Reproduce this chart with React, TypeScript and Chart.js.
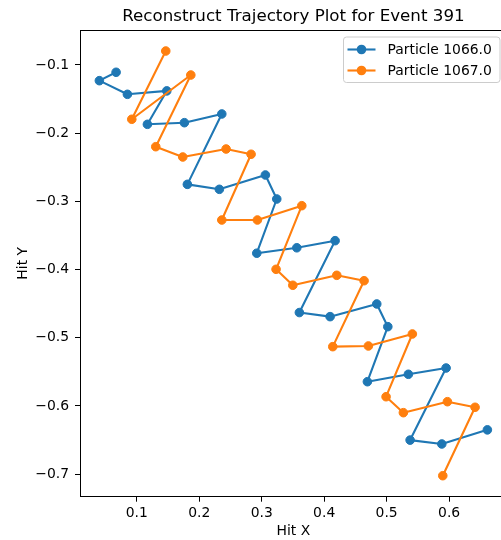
import React, { useEffect, useRef } from "react";
import { Chart, registerables } from "chart.js";

Chart.register(...registerables);

const titleText = "Reconstruct Trajectory Plot for Event 391";
const xLabel = "Hit X";
const yLabel = "Hit Y";
const seriesNames = ["Particle 1066.0", "Particle 1067.0"];
const seriesColors = ["#1f77b4", "#ff7f0e"];

const blueX = [0.0669, 0.0401, 0.085, 0.148, 0.117, 0.1762, 0.2361, 0.181, 0.2322, 0.3059, 0.3241, 0.2921, 0.3562, 0.4175, 0.3603, 0.4095, 0.4842, 0.5019, 0.4692, 0.5348, 0.5952, 0.5376, 0.5883, 0.6613];
const blueY = [-0.1107, -0.123, -0.143, -0.138, -0.187, -0.1846, -0.1718, -0.275, -0.2823, -0.2613, -0.2965, -0.376, -0.368, -0.3576, -0.463, -0.469, -0.4504, -0.4837, -0.5644, -0.5535, -0.5443, -0.65, -0.6557, -0.635];

const orangeX = [0.1464, 0.092, 0.1865, 0.1304, 0.1736, 0.243, 0.283, 0.2361, 0.2931, 0.3642, 0.323, 0.3498, 0.4202, 0.4639, 0.4138, 0.4708, 0.5412, 0.4991, 0.5268, 0.5973, 0.6416, 0.5899];
const orangeY = [-0.0795, -0.1796, -0.1147, -0.2198, -0.2349, -0.2232, -0.2309, -0.3273, -0.3273, -0.3063, -0.3996, -0.423, -0.4084, -0.4163, -0.513, -0.512, -0.4944, -0.5864, -0.6098, -0.5937, -0.6019, -0.7022];

const xTicks = [0.1, 0.2, 0.3, 0.4, 0.5, 0.6];
const yTicks = [-0.1, -0.2, -0.3, -0.4, -0.5, -0.6, -0.7];

const X_MIN = 0.0091;
const X_MAX = 0.6831;
const Y_MIN = -0.733;
const Y_MAX = -0.0487;

const FONT = "'DejaVu Sans', sans-serif";

const fmt = (v: number) => (v < 0 ? "\u2212" : "") + Math.abs(v).toFixed(1);

const decorPlugin = {
  id: "decor",
  afterDraw(chart: any) {
    const ctx = chart.ctx as CanvasRenderingContext2D;
    const a = chart.chartArea;
    const axesRight = 506.8;
    const axesCenterX = (a.left + axesRight) / 2;
    ctx.save();
    // top spine
    ctx.strokeStyle = "#000";
    ctx.lineWidth = 1;
    ctx.beginPath();
    ctx.moveTo(a.left, Math.round(a.top) + 0.5);
    ctx.lineTo(a.right, Math.round(a.top) + 0.5);
    ctx.stroke();

    // title
    ctx.fillStyle = "#000";
    ctx.font = `16.7px ${FONT}`;
    ctx.textAlign = "center";
    ctx.textBaseline = "alphabetic";
    ctx.fillText(titleText, axesCenterX, 21);

    // axis labels
    ctx.font = `13.9px ${FONT}`;
    ctx.fillText(xLabel, axesCenterX, 535);
    ctx.save();
    ctx.translate(27, (a.top + a.bottom) / 2);
    ctx.rotate(-Math.PI / 2);
    ctx.fillText(yLabel, 0, 0);
    ctx.restore();

    // legend
    const bx = 343.5, by = 37, bw = 156.5, bh = 45.5, r = 3;
    ctx.beginPath();
    ctx.moveTo(bx + r, by);
    ctx.lineTo(bx + bw - r, by);
    ctx.arcTo(bx + bw, by, bx + bw, by + r, r);
    ctx.lineTo(bx + bw, by + bh - r);
    ctx.arcTo(bx + bw, by + bh, bx + bw - r, by + bh, r);
    ctx.lineTo(bx + r, by + bh);
    ctx.arcTo(bx, by + bh, bx, by + bh - r, r);
    ctx.lineTo(bx, by + r);
    ctx.arcTo(bx, by, bx + r, by, r);
    ctx.closePath();
    ctx.fillStyle = "rgba(255,255,255,0.8)";
    ctx.fill();
    ctx.strokeStyle = "#cccccc";
    ctx.lineWidth = 1;
    ctx.stroke();

    const rows = [49.5, 70.5];
    seriesNames.forEach((name, i) => {
      const yy = rows[i];
      ctx.strokeStyle = seriesColors[i];
      ctx.lineWidth = 2.1;
      ctx.beginPath();
      ctx.moveTo(347.5, yy);
      ctx.lineTo(375.5, yy);
      ctx.stroke();
      ctx.fillStyle = seriesColors[i];
      ctx.beginPath();
      ctx.arc(361.5, yy, 4.8, 0, Math.PI * 2);
      ctx.fill();
      ctx.fillStyle = "#000";
      ctx.font = `13.9px ${FONT}`;
      ctx.textAlign = "left";
      ctx.textBaseline = "middle";
      ctx.fillText(name, 387.5, yy + 0.5);
    });
    ctx.restore();
  },
};

export default function App() {
  const ref = useRef<HTMLCanvasElement | null>(null);
  useEffect(() => {
    if (!ref.current) return;
    const mk = (xs: number[], ys: number[]) => xs.map((x, i) => ({ x, y: ys[i] }));
    const ds = (i: number, xs: number[], ys: number[], order: number) => ({
      label: seriesNames[i],
      data: mk(xs, ys),
      order,
      showLine: true,
      borderColor: seriesColors[i],
      backgroundColor: seriesColors[i],
      borderWidth: 2.1,
      borderJoinStyle: "round" as const,
      pointRadius: 4.3,
      pointBorderWidth: 1,
      pointBackgroundColor: seriesColors[i],
      pointBorderColor: seriesColors[i],
    });
    const chart = new Chart(ref.current, {
      type: "scatter",
      data: {
        datasets: [ds(0, blueX, blueY, 1), ds(1, orangeX, orangeY, 0)],
      },
      options: {
        responsive: false,
        animation: false,
        devicePixelRatio: 1,
        layout: { padding: { top: 30, left: 0, right: 0, bottom: 0 }, autoPadding: false },
        plugins: { legend: { display: false }, title: { display: false }, tooltip: { enabled: false } },
        scales: {
          x: {
            type: "linear",
            min: X_MIN,
            max: X_MAX,
            afterBuildTicks: (s: any) => {
              s.ticks = xTicks.map((v) => ({ value: v }));
            },
            afterFit: (s: any) => {
              s.height = 43.3;
            },
            grid: { display: true, drawOnChartArea: false, drawTicks: true, tickLength: 5, color: "#000", tickColor: "#000" },
            border: { display: true, color: "#000", width: 1 },
            ticks: {
              padding: 3,
              color: "#000",
              font: { family: FONT, size: 13.9 },
              callback: (v: any) => fmt(Number(v)),
              maxRotation: 0,
              autoSkip: false,
            },
          },
          y: {
            type: "linear",
            min: Y_MIN,
            max: Y_MAX,
            afterBuildTicks: (s: any) => {
              s.ticks = yTicks.map((v) => ({ value: v }));
            },
            afterFit: (s: any) => {
              s.width = 80;
            },
            grid: { display: true, drawOnChartArea: false, drawTicks: true, tickLength: 5, color: "#000", tickColor: "#000" },
            border: { display: true, color: "#000", width: 1 },
            ticks: {
              padding: 6,
              color: "#000",
              font: { family: FONT, size: 13.9 },
              callback: (v: any) => fmt(Number(v)),
              autoSkip: false,
            },
          },
        },
      },
      plugins: [decorPlugin],
    });
    return () => chart.destroy();
  }, []);
  return (
    <div style={{ position: "absolute", left: 0, top: 0, width: 501, height: 540, background: "#fff" }}>
      <canvas ref={ref} width={501} height={540} style={{ display: "block" }} />
    </div>
  );
}
